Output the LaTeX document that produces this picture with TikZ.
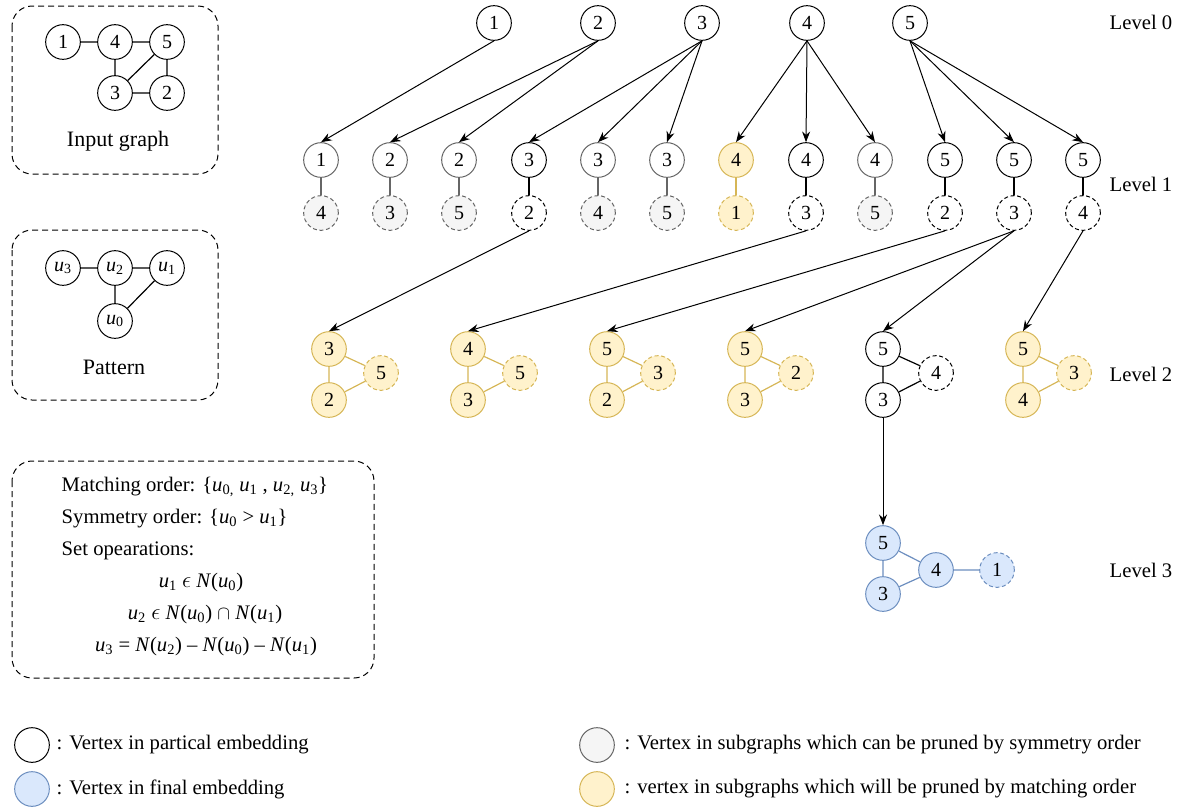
\documentclass[tikz,border=0pt]{standalone}
\usepackage{fontspec}
\setmainfont{Liberation Serif}
\usetikzlibrary{arrows.meta}
\definecolor{yfill}{HTML}{FFF2CC}
\definecolor{ydraw}{HTML}{D6B656}
\definecolor{bfill}{HTML}{DAE8FC}
\definecolor{bdraw}{HTML}{6C8EBF}
\definecolor{gfill}{HTML}{F5F5F5}
\definecolor{gdraw}{HTML}{666666}
\newcommand\uu[1]{\textit{u}\textsubscript{#1}}
\newcommand\elm{{\fontsize{19}{19}\selectfont$\epsilon$}}
\begin{document}
\begin{tikzpicture}[x=0.75pt,y=-0.75pt,
  v/.style={circle,draw,line width=0.75pt,minimum size=26pt,inner sep=0pt,font=\fontsize{15}{15}\selectfont},
  dsh/.style={dash pattern=on 3pt off 2pt},
  blk/.style={v,draw=black,fill=white},
  blkd/.style={blk,dsh},
  ylw/.style={v,draw=ydraw,fill=yfill},
  ylwd/.style={ylw,dsh},
  blu/.style={v,draw=bdraw,fill=bfill},
  blud/.style={blu,dsh},
  gry/.style={v,draw=gdraw,fill=white},
  gryd/.style={v,draw=gdraw,fill=gfill,dsh},
  ek/.style={draw=black,line width=0.9pt},
  ey/.style={draw=ydraw,line width=0.9pt},
  eb/.style={draw=bdraw,line width=0.9pt},
  eg/.style={draw=gdraw,line width=0.9pt},
  arr/.style={-{Stealth[length=8pt,width=6pt]},line width=0.75pt},
  box/.style={draw,rounded corners=15pt,dash pattern=on 4.5pt off 3pt,line width=0.75pt},
  lbl/.style={font=\fontsize{15.5}{15.5}\selectfont},
]
\useasboundingbox (0,0) rectangle (1177,808);

% ---- Input graph box
\draw[box] (12,6) rectangle (218,174);
\node[blk] (g1) at (63,42) {1};
\node[blk] (g4) at (115,42) {4};
\node[blk] (g5) at (167,42) {5};
\node[blk] (g3) at (115,93) {3};
\node[blk] (g2) at (167,93) {2};
\draw[ek] (g1)--(g4) (g4)--(g5) (g4)--(g3) (g5)--(g3) (g5)--(g2) (g3)--(g2);
\node[lbl,font=\fontsize{16.5}{16.5}\selectfont] (glab) at (118,141) {Input graph};

% ---- Pattern box
\draw[box] (12,230) rectangle (218,400);
\node[blk] (p3) at (63,268) {\uu{3}};
\node[blk] (p2) at (115,268) {\uu{2}};
\node[blk] (p1) at (167,268) {\uu{1}};
\node[blk] (p0) at (115,321) {\uu{0}};
\draw[ek] (p3)--(p2) (p2)--(p1) (p2)--(p0) (p1)--(p0);
\node[lbl,font=\fontsize{16.5}{16.5}\selectfont] (plab) at (114,367) {Pattern};

% ---- Orders box
\draw[box] (12,461) rectangle (374,678);
\node[lbl,anchor=west] (t1) at (57,487) {Matching order: \{\uu{0,} \uu{1} , \uu{2,} \uu{3}\}};
\node[lbl,anchor=west] (t2) at (57,519) {Symmetry order: \{\uu{0} > \uu{1}\}};
\node[lbl,anchor=west] (t3) at (57,551) {Set opearations:};
\node[lbl] (t4) at (201,583) {\uu{1} \elm{} \textit{N}(\uu{0})};
\node[lbl] (t5) at (205,615) {\uu{2} \elm{} \textit{N}(\uu{0}) $\cap$ \textit{N}(\uu{1})};
\node[lbl] (t6) at (206,647) {\uu{3} = \textit{N}(\uu{2}) -- \textit{N}(\uu{0}) -- \textit{N}(\uu{1})};

% ---- Level 0
\node[blk] (a1) at (494,23) {1};
\node[blk] (a2) at (598,23) {2};
\node[blk] (a3) at (702,23) {3};
\node[blk] (a4) at (807,23) {4};
\node[blk] (a5) at (910,23) {5};

% ---- Level 1
\node[gry] (b1) at (321,160) {1};   \node[gryd] (c1) at (321,213) {4};
\node[gry] (b2) at (390,160) {2};   \node[gryd] (c2) at (390,213) {3};
\node[gry] (b3) at (459,160) {2};   \node[gryd] (c3) at (459,213) {5};
\node[blk] (b4) at (529,160) {3};   \node[blkd] (c4) at (529,213) {2};
\node[gry] (b5) at (598,160) {3};   \node[gryd] (c5) at (598,213) {4};
\node[gry] (b6) at (667,160) {3};   \node[gryd] (c6) at (667,213) {5};
\node[ylw] (b7) at (736,160) {4};   \node[ylwd] (c7) at (736,213) {1};
\node[blk] (b8) at (806,160) {4};   \node[blkd] (c8) at (806,213) {3};
\node[gry] (b9) at (875,160) {4};   \node[gryd] (c9) at (875,213) {5};
\node[blk] (b10) at (945,160) {5};  \node[blkd] (c10) at (945,213) {2};
\node[blk] (b11) at (1014,160) {5}; \node[blkd] (c11) at (1014,213) {3};
\node[blk] (b12) at (1083,160) {5}; \node[blkd] (c12) at (1083,213) {4};
\draw[eg] (b1)--(c1) (b2)--(c2) (b3)--(c3) (b5)--(c5) (b6)--(c6) (b9)--(c9);
\draw[ek] (b4)--(c4) (b8)--(c8) (b10)--(c10) (b11)--(c11) (b12)--(c12);
\draw[ey] (b7)--(c7);

% arrows level 0 -> 1
\draw[arr] (a1.south) -- (b1.north);
\draw[arr] (a2.south) -- (b2.north);
\draw[arr] (a2.south) -- (b3.north);
\draw[arr] (a3.south) -- (b4.north);
\draw[arr] (a3.south) -- (b5.north);
\draw[arr] (a3.south) -- (b6.north);
\draw[arr] (a4.south) -- (b7.north);
\draw[arr] (a4.south) -- (b8.north);
\draw[arr] (a4.south) -- (b9.north);
\draw[arr] (a5.south) -- (b10.north);
\draw[arr] (a5.south) -- (b11.north);
\draw[arr] (a5.south) -- (b12.north);

% ---- Level 2
\node[ylw] (d1t) at (329,349) {3}; \node[ylw] (d1b) at (329,400) {2}; \node[ylwd] (d1s) at (381,373) {5};
\node[ylw] (d2t) at (468,349) {4}; \node[ylw] (d2b) at (468,400) {3}; \node[ylwd] (d2s) at (520,373) {5};
\node[ylw] (d3t) at (607,349) {5}; \node[ylw] (d3b) at (607,400) {2}; \node[ylwd] (d3s) at (658,373) {3};
\node[ylw] (d4t) at (745,349) {5}; \node[ylw] (d4b) at (745,400) {3}; \node[ylwd] (d4s) at (796,373) {2};
\node[blk] (d5t) at (883,349) {5}; \node[blk] (d5b) at (883,400) {3}; \node[blkd] (d5s) at (936,373) {4};
\node[ylw] (d6t) at (1023,349) {5}; \node[ylw] (d6b) at (1023,400) {4}; \node[ylwd] (d6s) at (1074,373) {3};
\draw[ey] (d1t)--(d1b) (d1t)--(d1s) (d1b)--(d1s);
\draw[ey] (d2t)--(d2b) (d2t)--(d2s) (d2b)--(d2s);
\draw[ey] (d3t)--(d3b) (d3t)--(d3s) (d3b)--(d3s);
\draw[ey] (d4t)--(d4b) (d4t)--(d4s) (d4b)--(d4s);
\draw[ek] (d5t)--(d5b) (d5t)--(d5s) (d5b)--(d5s);
\draw[ey] (d6t)--(d6b) (d6t)--(d6s) (d6b)--(d6s);

% arrows level 1 -> 2
\draw[arr] (c4.south) -- (d1t.north);
\draw[arr] (c8.south) -- (d2t.north);
\draw[arr] (c10.south) -- (d3t.north);
\draw[arr] (c11.south) -- (d4t.north);
\draw[arr] (c11.south) -- (d5t.north);
\draw[arr] (c12.south) -- (d6t.north);

% ---- Level 3
\node[blu] (e5) at (883,543) {5};
\node[blu] (e3) at (883,594) {3};
\node[blu] (e4) at (936,570) {4};
\node[blud] (e1) at (997,570) {1};
\draw[eb] (e5)--(e3) (e5)--(e4) (e3)--(e4) (e4)--(e1);
\draw[arr] (d5b.south) -- (e5.north);

% ---- Level labels
\node[lbl,anchor=west] (l0) at (1105,22) {Level 0};
\node[lbl,anchor=west] (l1) at (1105,184) {Level 1};
\node[lbl,anchor=west] (l2) at (1105,374) {Level 2};
\node[lbl,anchor=west] (l3) at (1105,570) {Level 3};

% ---- Legend
\node[blk] (k1) at (32,745) {};
\node[lbl,anchor=west] (k1t) at (52,745) {: Vertex in partical embedding};
\node[blu] (k2) at (32,789) {};
\node[lbl,anchor=west] (k2t) at (52,789) {: Vertex in final embedding};
\node[gryd,solid] (k3) at (597,745) {};
\node[lbl,anchor=west] (k3t) at (620,745) {: Vertex in subgraphs which can be pruned by symmetry order};
\node[ylw] (k4) at (597,789) {};
\node[lbl,anchor=west] (k4t) at (620,789) {: vertex in subgraphs which will be pruned by matching order};
\end{tikzpicture}
\end{document}
